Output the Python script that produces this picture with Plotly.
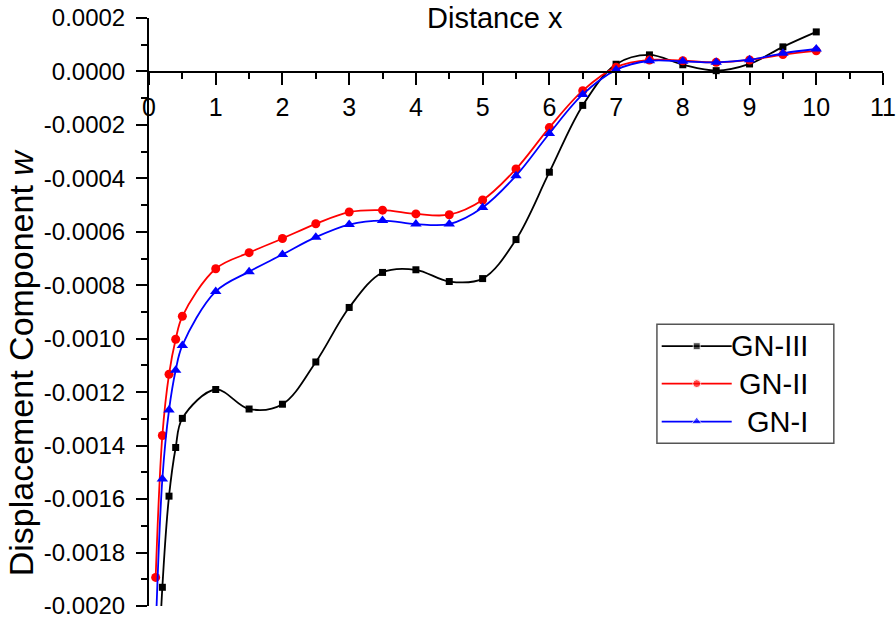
import plotly.graph_objects as go

# ---- data ----
x_vals = [0.1, 0.2, 0.3, 0.4, 0.5, 1.0, 1.5, 2.0, 2.5, 3.0, 3.5, 4.0, 4.5, 5.0,
          5.5, 6.0, 6.5, 7.0, 7.5, 8.0, 8.5, 9.0, 9.5, 10.0]
gn3 = [-0.00250, -0.001930, -0.001589, -0.001407, -0.001298, -0.001190, -0.001263,
       -0.001245, -0.001087, -0.000883, -0.000752, -0.000742, -0.000786, -0.000775,
       -0.000629, -0.000377, -0.000127, 0.000027, 0.000062, 0.000025, 0.000003,
       0.000028, 0.000092, 0.000148]
gn2 = [-0.001893, -0.001362, -0.001133, -0.001002, -0.000916, -0.000738, -0.000678,
       -0.000625, -0.000570, -0.000526, -0.000519, -0.000533, -0.000536, -0.000481,
       -0.000365, -0.000210, -0.000072, 0.000016, 0.000043, 0.000040, 0.000034,
       0.000043, 0.000063, 0.000077]
gn1 = [-0.00210, -0.001525, -0.001267, -0.001118, -0.001025, -0.000823, -0.000749,
       -0.000685, -0.000620, -0.000573, -0.000558, -0.000571, -0.000571, -0.000509,
       -0.000390, -0.000232, -0.000086, 0.000006, 0.000040, 0.000038, 0.000034,
       0.000044, 0.000068, 0.000084]
series_names = ["GN-III", "GN-II", "GN-I"]

xtick_vals = list(range(0, 12))
xtick_minor = [i + 0.5 for i in range(0, 11)]
ytick_vals = [-0.0020, -0.0018, -0.0016, -0.0014, -0.0012, -0.0010, -0.0008,
              -0.0006, -0.0004, -0.0002, 0.0000, 0.0002]
ytick_text = ["-0.0020", "-0.0018", "-0.0016", "-0.0014", "-0.0012", "-0.0010",
              "-0.0008", "-0.0006", "-0.0004", "-0.0002", "0.0000", "0.0002"]
ytick_minor = [-0.0019, -0.0017, -0.0015, -0.0013, -0.0011, -0.0009, -0.0007,
               -0.0005, -0.0003, -0.0001, 0.0001]

# ---- styles ----
colors = ["#000000", "#ff0000", "#0000ff"]
symbols = ["square", "circle", "triangle-up"]
msizes = [7, 9, 10]
lg_msizes = [7, 8, 9]
FONT = "Liberation Sans, Arial, sans-serif"

fig = go.Figure()
for name, ys, c, s, ms in zip(series_names, [gn3, gn2, gn1], colors, symbols, msizes):
    fig.add_trace(go.Scatter(
        x=x_vals, y=ys, name=name, mode="lines+markers",
        line=dict(color=c, width=1.8, shape="spline", smoothing=1.0),
        marker=dict(symbol=s, size=ms, color=c),
        showlegend=False, cliponaxis=True,
    ))

# ---- custom legend (overlay axes in 0..1 units) ----
lg_rows = [0.4418, 0.3782, 0.3137]
lg_x0, lg_x1, lg_xm = 0.6985, 0.7939, 0.7462
for name, c, s, ms, fy in zip(series_names, colors, symbols, lg_msizes, lg_rows):
    fig.add_trace(go.Scatter(
        x=[lg_x0, lg_xm, lg_x1], y=[fy, fy, fy], mode="lines+markers",
        line=dict(color=c, width=1.8),
        marker=dict(symbol=s, size=[0, ms, 0], color=c),
        xaxis="x2", yaxis="y2", showlegend=False, hoverinfo="skip",
    ))
    fig.add_annotation(x=0.9005, y=fy, xref="paper", yref="paper", text=name,
                       showarrow=False, xanchor="right", yanchor="middle",
                       font=dict(family=FONT, size=29, color="#000000"))
fig.add_shape(type="rect", xref="paper", yref="paper", x0=0.692, x1=0.933,
              y0=0.2766, y1=0.479, line=dict(color="#555555", width=1.5))

# ---- titles ----
fig.add_annotation(x=0.471, y=1.031, xref="paper", yref="paper", text="Distance x",
                   showarrow=False, xanchor="center", yanchor="top",
                   font=dict(family=FONT, size=29, color="#000000"))
fig.add_annotation(x=-0.2025, y=0.415, xref="paper", yref="paper",
                   text="Displacement Component <i>w</i>", textangle=-90,
                   showarrow=False, xanchor="left", yanchor="middle",
                   font=dict(family=FONT, size=34, color="#000000"))

fig.update_layout(
    width=896, height=621, autosize=False,
    margin=dict(l=149, r=13, t=18, b=15, pad=0),
    paper_bgcolor="white", plot_bgcolor="white",
    font=dict(family=FONT, color="#000000"),
    xaxis=dict(
        range=[0, 11], anchor="free", position=0.9089, side="bottom",
        showline=True, linecolor="#000000", linewidth=2,
        showgrid=False, zeroline=False,
        tickmode="array", tickvals=xtick_vals,
        ticks="outside", ticklen=12, tickwidth=2, tickcolor="#000000",
        tickfont=dict(family=FONT, size=25, color="#000000"),
        ticklabelstandoff=1,
        minor=dict(tickmode="array", tickvals=xtick_minor, ticks="outside",
                   ticklen=6, tickwidth=2, tickcolor="#000000"),
        automargin=False,
    ),
    yaxis=dict(
        range=[-0.0020, 0.0002], anchor="x",
        showline=True, linecolor="#000000", linewidth=2,
        showgrid=False, zeroline=False,
        tickmode="array", tickvals=ytick_vals, ticktext=ytick_text,
        ticks="outside", ticklen=11, tickwidth=2, tickcolor="#000000",
        tickfont=dict(family=FONT, size=24, color="#000000"),
        ticklabelstandoff=6, ticklabeloverflow="allow",
        minor=dict(tickmode="array", tickvals=ytick_minor, ticks="outside",
                   ticklen=6, tickwidth=2, tickcolor="#000000"),
        automargin=False,
    ),
    xaxis2=dict(range=[0, 1], overlaying="x", anchor="y2", visible=False,
                fixedrange=True),
    yaxis2=dict(range=[0, 1], overlaying="y", anchor="x2", visible=False,
                fixedrange=True),
)

fig.write_html(
    "out.html",
    config={"displayModeBar": False},
    post_script="document.body.style.margin='0';document.body.style.padding='0';"
                "document.body.style.overflow='hidden';",
)
